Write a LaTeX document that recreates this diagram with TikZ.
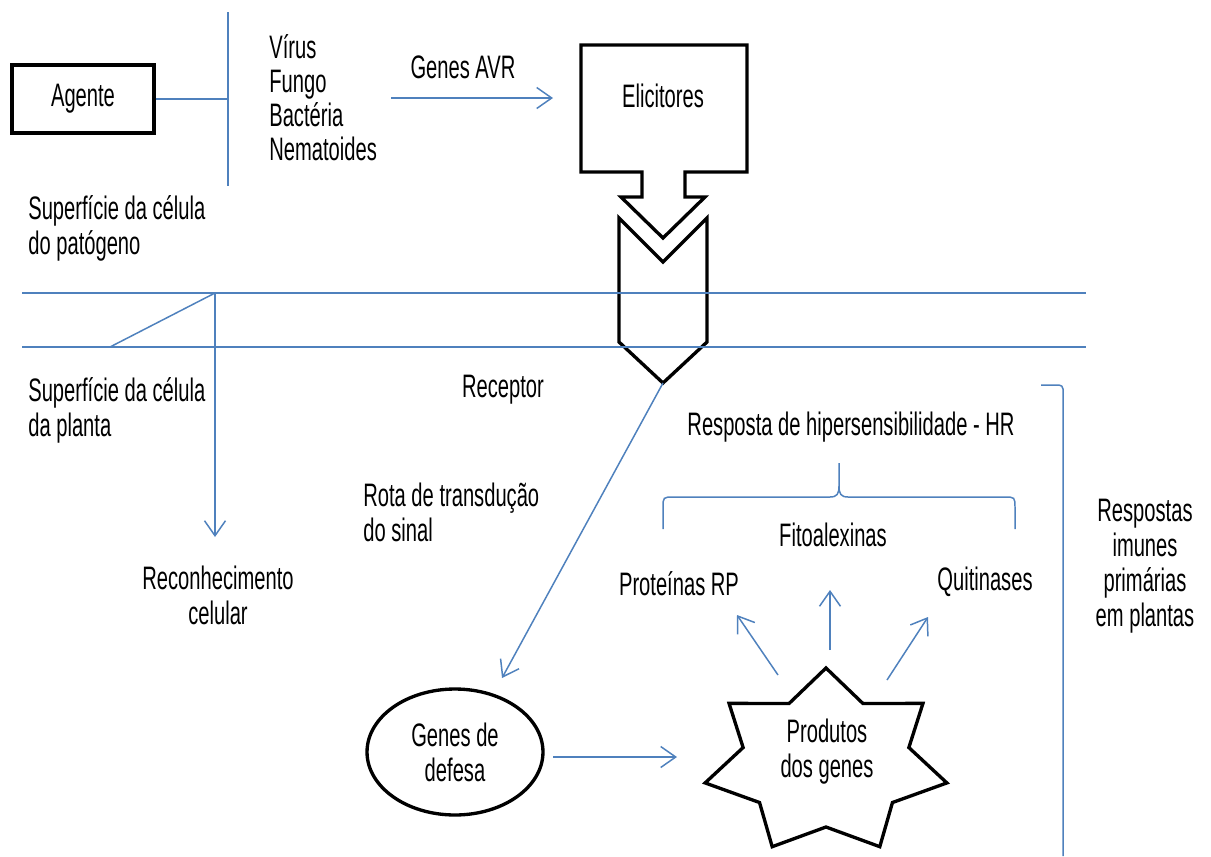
\documentclass[tikz,border=0pt]{standalone}
\usepackage{fontspec}
\setmainfont{Liberation Sans}[FakeStretch=0.62]
\usepackage{xcolor}
\usepackage{tikz}
\usetikzlibrary{arrows.meta,shapes.geometric}

\definecolor{azullinha}{RGB}{79,129,189}

\tikzset{
	linha/.style={draw=azullinha, line width=0.85pt},
	seta/.style={linha, -{Straight Barb[length=0.3cm,width=0.42cm]}},
	contorno/.style={draw=black, line width=1.9pt, line join=miter},
	texto/.style={align=center, inner sep=0pt},
}

\begin{document}
\begin{tikzpicture}[x=0.02cm, y=-0.02cm, font=\fontsize{18.5}{20}\selectfont] % 1 unit = 1 px of the page
		\useasboundingbox (0,0) rectangle (1211,856);
		
		% Agent and pathogen types
		\node[contorno, minimum width=2.84cm, minimum height=1.36cm] (agente) at (83,99) {Agente};
		\coordinate (ramotopo) at (228,12);
		\coordinate (ramobase) at (228,186);
		\draw[linha] (agente.east) -- (agente.east -| ramotopo);
		\draw[linha] (ramotopo) -- (ramobase);
		\foreach \t [count=\i] in {Vírus,Fungo,Bactéria,Nematoides} {
			\node[anchor=base west, inner sep=0pt] (patogeno\i) at (269,24+34*\i) {\t};
		}
		
		% Genes AVR -> elicitors
		\node[texto] (avr) at (463,67) {Genes AVR};
		\coordinate (avrini) at (391,98);
		\coordinate (avrfim) at (553,98);
		\draw[seta] (avrini) -- (avrfim);
		
		\draw[contorno] (581,45) -- (747,45) -- (747,172) -- (685,172) -- (685,197) -- (705,197)
			-- (663,238) -- (621,197) -- (642,197) -- (642,172) -- (581,172) -- cycle;
		\node[texto] (elicitores) at (663,96) {Elicitores};
		
		% Receptor
		\draw[contorno] (619,218) -- (663,262) -- (707,218) -- (707,342) -- (663,383) -- (619,342) -- cycle;
		\coordinate (receptorponta) at (663,383);
		\node[texto] (receptor) at (503,390) {Receptor};
		
		% Cell surfaces
		\coordinate (memesq1) at (22,293);
		\coordinate (memdir1) at (1086,293);
		\coordinate (memesq2) at (22,347);
		\coordinate (memdir2) at (1086,347);
		\draw[linha] (memesq1) -- (memdir1);
		\draw[linha] (memesq2) -- (memdir2);
		\node[anchor=west, align=left, inner sep=0pt] (patogeno) at (28,228) {Superfície da célula\\do patógeno};
		\node[anchor=west, align=left, inner sep=0pt] (planta) at (28,410) {Superfície da célula\\da planta};
		
		% Cell recognition
		\coordinate (diagini) at (110,347);
		\coordinate (diagfim) at (215,293);
		\coordinate (reconfim) at (215,537);
		\draw[linha] (diagini) -- (diagfim);
		\draw[seta] (diagfim) -- (reconfim);
		\node[texto] (reconhecimento) at (218,595) {Reconhecimento\\celular};
		
		% Signal transduction
		\node[anchor=west, align=left, inner sep=0pt] (rota) at (363,512) {Rota de transdução\\do sinal};
		\node[ellipse, contorno, minimum width=3.52cm, minimum height=2.52cm, align=center] (defesa) at (455,752) {Genes de\\defesa};
		\coordinate (rotafim) at (502,678);
		\draw[seta] (receptorponta) -- (rotafim);
		
		% Gene products
		\draw[contorno] ([shift={(826,762)}]-90:124 and 94)
			\foreach \k in {0,...,5} {
				-- ([shift={(826,762)}]{360/7*\k+180/7-90}:85 and 65)
				-- ([shift={(826,762)}]{360/7*\k+360/7-90}:124 and 94)
			} -- ([shift={(826,762)}]{360/7*6+180/7-90}:85 and 65) -- cycle;
		\node[texto] (produtos) at (827,752) {Produtos\\dos genes};
		\coordinate (defesaini) at (553,757);
		\coordinate (defesafim) at (677,757);
		\draw[seta] (defesaini) -- (defesafim);
		
		\node[texto] (proteinas) at (679,584) {Proteínas RP};
		\node[texto] (fitoalexinas) at (833,535) {Fitoalexinas};
		\node[texto] (quitinases) at (985,582) {Quitinases};
		\coordinate (p1) at (778,675);
		\coordinate (p1fim) at (737,615);
		\coordinate (p2) at (830,650);
		\coordinate (p2fim) at (830,590);
		\coordinate (p3) at (887,680);
		\coordinate (p3fim) at (928,617);
		\draw[seta] (p1) -- (p1fim);
		\draw[seta] (p2) -- (p2fim);
		\draw[seta] (p3) -- (p3fim);
		
		% Hypersensitive response brace
		\node[texto] (hr) at (851,427) {Resposta de hipersensibilidade - HR};
		\draw[linha] (663,529) -- (663,508) .. controls (663,497) .. (674,497) -- (830,497)
			.. controls (837,497) and (839,494) .. (839,486) -- (839,463)
			-- (839,486) .. controls (839,494) and (841,497) .. (848,497) -- (1004,497)
			.. controls (1015,497) .. (1015,508) -- (1015,529);
		
		% Primary immune responses
		\draw[linha, rounded corners=0.08cm] (1041,385) -- (1063,385) -- (1063,856);
		\node[texto] (respostas) at (1145,566) {Respostas\\imunes\\primárias\\em plantas};
	\end{tikzpicture}
\end{document}
